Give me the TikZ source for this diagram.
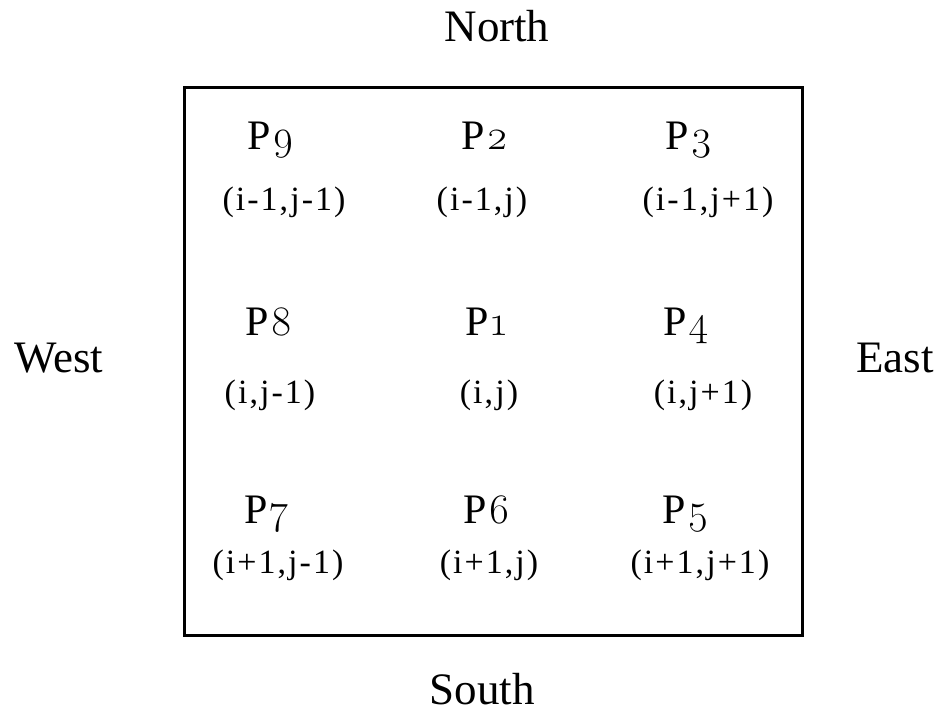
\documentclass[tikz,border=0pt]{standalone}
\usepackage{fontspec}
\setmainfont{Liberation Serif}
\newfontfamily\osnum[Numbers=OldStyle]{Latin Modern Roman}
\newfontfamily\coordfont[LetterSpace=6]{Liberation Serif}
\newcommand{\plab}[1]{P\kern2pt{\osnum #1}}
\begin{document}
\begin{tikzpicture}[x=1pt,y=-1pt,
  compass/.style={anchor=base,inner sep=0pt,font=\fontsize{45}{50}\selectfont},
  plabel/.style={anchor=base,inner sep=0pt,font=\fontsize{42}{46}\selectfont},
  clabel/.style={anchor=base,inner sep=0pt,font=\coordfont\fontsize{34}{38}\selectfont}]
\useasboundingbox (0,0) rectangle (950,714);
\node[draw,line width=3pt,minimum width=618pt,minimum height=547pt,inner sep=0pt] (box) at (493,361.5) {};
\node[compass] (north) at (497,42) {North};
\node[compass] (south) at (482,704) {South};
\node[compass] (west) at (59,372) {West};
\node[compass] (east) at (895,372) {East};
% row 1
\node[plabel] (p9) at (271,150) {\plab{9}};
\node[plabel] (p2) at (485,150) {\plab{2}};
\node[plabel] (p3) at (689,150) {\plab{3}};
\node[clabel] (c9) at (284,211) {(i-1,j-1)};
\node[clabel] (c2) at (482,211) {(i-1,j)};
\node[clabel] (c3) at (708,211) {(i-1,j+1)};
% row 2
\node[plabel] (p8) at (269,335) {\plab{8}};
\node[plabel] (p1) at (486,335) {\plab{1}};
\node[plabel] (p4) at (686,335) {\plab{4}};
\node[clabel] (c8) at (270,403) {(i,j-1)};
\node[clabel] (c1) at (489,403) {(i,j)};
\node[clabel] (c4) at (703,403) {(i,j+1)};
% row 3
\node[plabel] (p7) at (267,523) {\plab{7}};
\node[plabel] (p6) at (487,523) {\plab{6}};
\node[plabel] (p5) at (686,523) {\plab{5}};
\node[clabel] (c7) at (278,573) {(i+1,j-1)};
\node[clabel] (c6) at (489,573) {(i+1,j)};
\node[clabel] (c5) at (700,573) {(i+1,j+1)};
\end{tikzpicture}
\end{document}
